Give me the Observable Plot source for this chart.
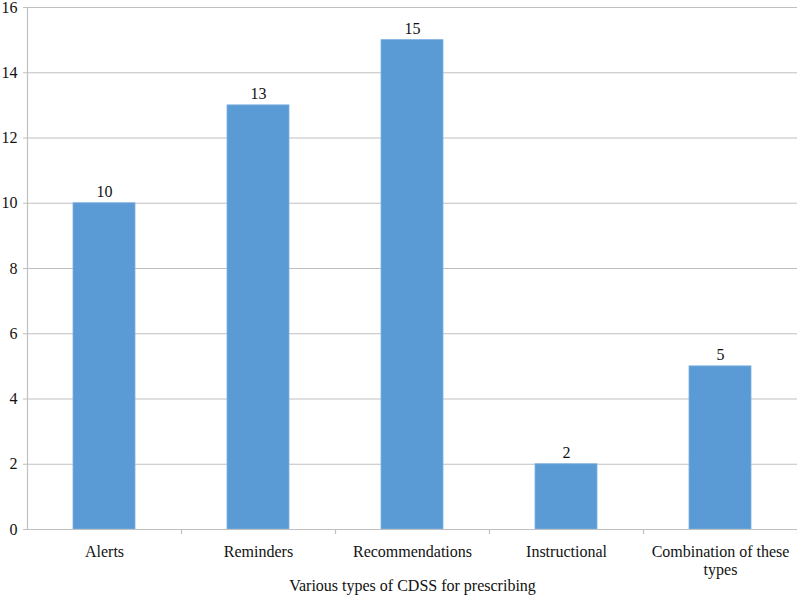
<!DOCTYPE html>
<html>
<head>
<meta charset="utf-8">
<script src="https://cdn.jsdelivr.net/npm/d3@7"></script>
<script src="https://cdn.jsdelivr.net/npm/@observablehq/plot@0.6"></script>
<style>
  html, body { margin: 0; padding: 0; background: #fff; }
  #chart svg { display: block; }
  #chart svg, #chart svg text { font-family: "Liberation Serif", "Times New Roman", serif !important; }
</style>
</head>
<body>
<div id="chart"></div>
<script>
const categories = ["Alerts", "Reminders", "Recommendations", "Instructional", "Combination of these types"];
const counts = [10, 13, 15, 2, 5];
const yTicks = [0, 2, 4, 6, 8, 10, 12, 14, 16];
const xTitle = "Various types of CDSS for prescribing";

const data = categories.map((c, i) => ({category: c, value: counts[i]}));

const W = 797, H = 596;
const mL = 27, mR = 0, mT = 7, mB = 67;
const band = (W - mL - mR) / categories.length;
const font = "Liberation Serif";
const gridColor = "#c0c0c0";

const chart = Plot.plot({
  width: W,
  height: H,
  marginLeft: mL,
  marginRight: mR,
  marginTop: mT,
  marginBottom: mB,
  style: {fontSize: "16px", color: "#000", background: "#fff"},
  x: {domain: categories, paddingInner: 0.6, paddingOuter: 0.3, align: 0.5, label: null},
  y: {domain: [0, 16], ticks: yTicks, label: null},
  marks: [
    Plot.ruleY(yTicks.filter(d => d > 0), {stroke: gridColor, strokeWidth: 1.2}),
    Plot.barY(data, {x: "category", y: "value", fill: "#5b9bd5", stroke: "#7db0e0", strokeWidth: 0.8}),
    Plot.text(data, {x: "category", y: "value", text: d => String(d.value), lineAnchor: "bottom", dy: -6, fontSize: 16, fill: "#111", fontFamily: font}),
    Plot.ruleY([0], {stroke: gridColor, strokeWidth: 1.2}),
    Plot.ruleX([0], {x: () => categories[0], dx: -band / 2, y1: 0, y2: 16, stroke: gridColor, strokeWidth: 1.2}),
    Plot.ruleX(categories, {x: d => d, dx: band / 2, y1: 0, y2: 0, insetBottom: -5, stroke: gridColor, strokeWidth: 1.2}),
    Plot.axisY({ticks: yTicks, tickSize: 4, tickPadding: 6, stroke: gridColor, fontSize: 16, fill: "#111", label: null, fontFamily: font}),
    Plot.axisX({tickSize: 0, tickPadding: 14, fontSize: 16, fill: "#111", lineWidth: 11, lineHeight: 1.15, label: null, fontFamily: font}),
    Plot.text([xTitle], {frameAnchor: "bottom", dy: 61, fontSize: 16, fill: "#111", text: d => d, lineAnchor: "bottom", fontFamily: font})
  ]
});

document.getElementById("chart").appendChild(chart);
</script>
</body>
</html>
